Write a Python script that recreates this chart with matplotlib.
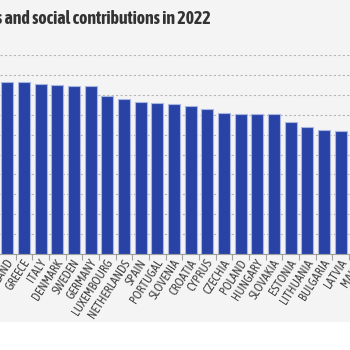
import matplotlib
matplotlib.use("Agg")
import matplotlib.pyplot as plt
from matplotlib.patches import Rectangle

countries = ["FINLAND", "GREECE", "ITALY", "DENMARK", "SWEDEN", "GERMANY",
             "LUXEMBOURG", "NETHERLANDS", "SPAIN", "PORTUGAL", "SLOVENIA",
             "CROATIA", "CYPRUS", "CZECHIA", "POLAND", "HUNGARY", "SLOVAKIA",
             "ESTONIA", "LITHUANIA", "BULGARIA", "LATVIA", "MALTA"]
values = [43.1, 43.1, 42.8, 42.5, 42.3, 42.1, 39.8, 38.9, 38.3, 37.9, 37.8,
          37.2, 36.5, 35.4, 35.3, 35.1, 35.1, 33.2, 31.9, 31.1, 30.8, 27.5]
yticks = [0, 5, 10, 15, 20, 25, 30, 35, 40, 45, 50]
title = "Total receipts from taxes and social contributions in 2022"

plt.rcParams["font.family"] = ["Asap Condensed", "Barlow Condensed", "DejaVu Sans"]

W = H = 350
fig = plt.figure(figsize=(3.5, 3.5), dpi=100, facecolor="white")
fig.patches.append(Rectangle((0, 1 - 322 / H), 1, 322 / H, transform=fig.transFigure,
                             facecolor="#f4f4f4", edgecolor="none", zorder=-10))

ax = fig.add_axes([0, 1 - 254 / H, 1, (254 - 55) / H])
ax.set_zorder(1)
ax.set_facecolor("none")

xs = list(range(len(countries)))
ax.bar(xs, values, width=0.72, color="#2843a5", edgecolor="#aab6e2", linewidth=0.8, zorder=3)

ax.set_yticks(yticks)
ax.set_yticklabels([])
ax.tick_params(axis="y", length=0)
ax.yaxis.grid(True, color="#b5b5b5", linestyle=(0, (2, 2)), linewidth=0.8, zorder=0)
ax.set_axisbelow(True)
for s in ["top", "right", "left"]:
    ax.spines[s].set_visible(False)
ax.spines["bottom"].set_color("#a0a0a0")
ax.spines["bottom"].set_linewidth(0.8)

ax.set_xticks([i - 0.5 for i in range(len(countries) + 1)])
ax.set_xticklabels([])
ax.tick_params(axis="x", length=4, color="#a0a0a0", width=0.8)

px = 16.67
x0 = -7.2 / px
ax.set_xlim(x0, x0 + W / px)
ax.set_ylim(0, 50)

for i, c in enumerate(countries):
    ax.text(i + 0.2, -1.6, c, rotation=57, rotation_mode="anchor", ha="right", va="center",
            fontsize=9, color="#444444", clip_on=False)

fig.text(211 / W, 1 - 18.5 / H, title, ha="right", va="center", fontsize=12.8,
         fontweight="bold", color="#333333")

fig.savefig("out.png", dpi=100, facecolor="white")
